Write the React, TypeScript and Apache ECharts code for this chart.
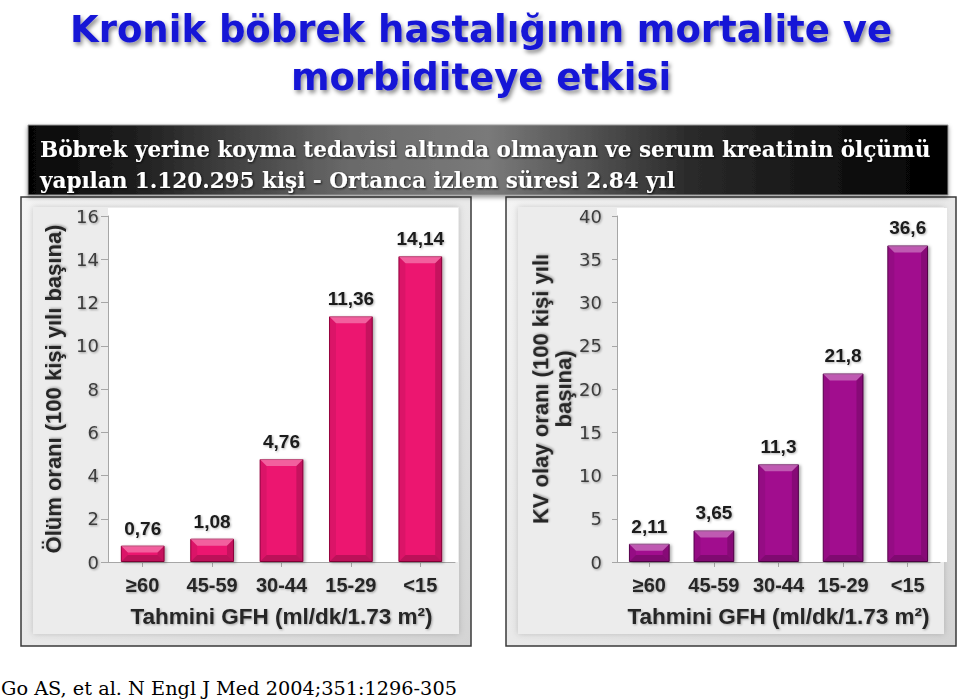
import React, { useEffect, useRef } from "react";
import * as echarts from "echarts";

const titleLines = ["Kronik böbrek hastalığının mortalite ve", "morbiditeye etkisi"];
const bannerLines = [
  "Böbrek yerine koyma tedavisi altında olmayan ve serum kreatinin ölçümü",
  "yapılan 1.120.295 kişi - Ortanca izlem süresi 2.84 yıl",
];
const citation = "Go AS, et al. N Engl J Med 2004;351:1296-305";

const categories = ["≥60", "45-59", "30-44", "15-29", "<15"];
const mortality = [0.76, 1.08, 4.76, 11.36, 14.14];
const cvEvents = [2.11, 3.65, 11.3, 21.8, 36.6];

const xAxisName = "Tahmini GFH (ml/dk/1.73 m²)";
const leftYName = "Ölüm oranı (100 kişi yılı başına)";
const rightYName = "KV olay oranı (100 kişi yılı\nbaşına)";

const leftMax = 16;
const leftInterval = 2;
const rightMax = 40;
const rightInterval = 5;

const BAR_RATIO = 0.63;

const fmt = (v: number) => String(v).replace(".", ",");

function panel(x: number, y: number, w: number, h: number, plot: number[]) {
  return [
    {
      type: "rect",
      z: -20,
      shape: { x, y, width: w, height: h },
      style: {
        fill: new echarts.graphic.LinearGradient(0, 0, 1, 1, [
          { offset: 0, color: "#f4f4f4" },
          { offset: 0.5, color: "#e9e9e9" },
          { offset: 1, color: "#d4d4d4" },
        ]),
        stroke: "#3a3a3a",
        lineWidth: 1.5,
      },
    },
    {
      type: "rect",
      z: -19,
      shape: { x: x + 12, y: y + 10, width: w - 24, height: h - 22 },
      style: {
        fill: "#ececec",
        shadowColor: "rgba(0,0,0,0.18)",
        shadowBlur: 6,
      },
    },
    {
      type: "rect",
      z: -18,
      shape: { x: plot[0], y: plot[1], width: plot[2], height: plot[3] },
      style: { fill: "#ffffff" },
    },
  ];
}

const tickLabelStyle = {
  color: "#3c3c3c",
  fontFamily: "DejaVu Sans",
  fontSize: 18,
  textShadowColor: "rgba(0,0,0,0.35)",
  textShadowBlur: 2,
  textShadowOffsetX: 1,
  textShadowOffsetY: 1,
};

const catLabelStyle = {
  color: "#262626",
  fontFamily: "Liberation Sans",
  fontWeight: "bold" as const,
  fontSize: 20,
  margin: 13,
  interval: 0,
  textShadowColor: "rgba(0,0,0,0.3)",
  textShadowBlur: 2,
  textShadowOffsetX: 1,
  textShadowOffsetY: 1,
};

const nameStyle = {
  color: "#262626",
  fontFamily: "Liberation Sans",
  fontWeight: "bold" as const,
  fontSize: 22,
  textShadowColor: "rgba(0,0,0,0.3)",
  textShadowBlur: 2,
  textShadowOffsetX: 1,
  textShadowOffsetY: 1,
};

const axisLine = { show: true, lineStyle: { color: "#a6a6a6", width: 1 } };

const barLabel = {
  show: true,
  position: "top",
  distance: 8,
  formatter: (p: any) => fmt(p.value),
  color: "#1a1a1a",
  fontFamily: "Liberation Sans",
  fontWeight: "bold",
  fontSize: 19,
  textShadowColor: "rgba(0,0,0,0.3)",
  textShadowBlur: 2,
  textShadowOffsetX: 1,
  textShadowOffsetY: 1,
};

function bevelRender(params: any, api: any) {
  const idx = api.value(0);
  const val = api.value(1);
  const top = api.coord([idx, val]);
  const base = api.coord([idx, 0]);
  const w = api.size([1, 0])[0] * BAR_RATIO;
  const x0 = top[0] - w / 2;
  const x1 = top[0] + w / 2;
  const y0 = top[1];
  const y1 = base[1];
  const b = Math.min(7, (y1 - y0) / 2.2);
  return {
    type: "group",
    silent: true,
    children: [
      {
        type: "polygon",
        shape: { points: [[x0, y0], [x1, y0], [x1 - b, y0 + b], [x0 + b, y0 + b]] },
        style: { fill: "rgba(255,255,255,0.32)" },
      },
      {
        type: "polygon",
        shape: { points: [[x0, y0], [x0 + b, y0 + b], [x0 + b, y1 - b], [x0, y1]] },
        style: { fill: "rgba(0,0,0,0.07)" },
      },
      {
        type: "polygon",
        shape: { points: [[x1, y0], [x1 - b, y0 + b], [x1 - b, y1 - b], [x1, y1]] },
        style: { fill: "rgba(0,0,0,0.16)" },
      },
      {
        type: "polygon",
        shape: { points: [[x0, y1], [x0 + b, y1 - b], [x1 - b, y1 - b], [x1, y1]] },
        style: { fill: "rgba(0,0,0,0.2)" },
      },
    ],
  };
}

export default function App() {
  const ref = useRef<HTMLDivElement>(null);

  useEffect(() => {
    if (!ref.current) return;
    const chart = echarts.init(ref.current, undefined, { renderer: "svg" });
    const bannerText = (t: string, y: number) => ({
      type: "text",
      x: 40,
      y,
      style: {
        text: t,
        fill: "#ffffff",
        fontFamily: "DejaVu Serif",
        fontWeight: "bold",
        fontSize: 21.5,
        verticalAlign: "middle",
        textShadowColor: "rgba(0,0,0,0.8)",
        textShadowBlur: 2,
        textShadowOffsetX: 1,
        textShadowOffsetY: 1,
      },
    });
    const barSeries = (i: number, data: number[], color: string, border: string) => [
      {
        type: "bar",
        xAxisIndex: i,
        yAxisIndex: i,
        data,
        barWidth: BAR_RATIO * 100 + "%",
        z: 2,
        itemStyle: {
          color,
          borderColor: border,
          borderWidth: 1,
          shadowColor: "rgba(0,0,0,0.3)",
          shadowBlur: 3,
          shadowOffsetX: 2,
          shadowOffsetY: 1,
        },
        label: barLabel,
      },
      {
        type: "custom",
        xAxisIndex: i,
        yAxisIndex: i,
        z: 3,
        silent: true,
        data: data.map((v, k) => [k, v]),
        encode: { x: 0, y: 1 },
        renderItem: bevelRender,
      },
    ];
    const option: any = {
      animation: false,
      backgroundColor: "#ffffff",
      graphic: [
        ...panel(21, 197, 450, 449, [108, 208, 350, 354]),
        ...panel(506, 197, 450, 449, [617, 208, 330, 354]),
        {
          type: "rect",
          z: -15,
          shape: { x: 28, y: 125, width: 920, height: 70 },
          style: {
            fill: new echarts.graphic.LinearGradient(0, 0, 1, 0, [
              { offset: 0, color: "#050505" },
              { offset: 0.12, color: "#202020" },
              { offset: 0.35, color: "#6a6a6a" },
              { offset: 0.5, color: "#7a7a7a" },
              { offset: 0.72, color: "#2a2a2a" },
              { offset: 1, color: "#000000" },
            ]),
            stroke: "#9a9a9a",
            lineWidth: 1,
            shadowColor: "rgba(0,0,0,0.4)",
            shadowBlur: 4,
            shadowOffsetY: 2,
          },
        },
        bannerText(bannerLines[0], 149),
        bannerText(bannerLines[1], 180),
        ...titleLines.map((t, i) => ({
          type: "text",
          x: 481,
          y: 29 + i * 48,
          style: {
            text: t,
            fill: "#1515d6",
            fontFamily: "DejaVu Sans",
            fontWeight: "bold",
            fontSize: 37,
            align: "center",
            verticalAlign: "middle",
            textShadowColor: "rgba(0,0,0,0.45)",
            textShadowBlur: 4,
            textShadowOffsetX: 2,
            textShadowOffsetY: 3,
          },
        })),
        {
          type: "text",
          x: 1,
          y: 688,
          style: {
            text: citation,
            fill: "#000000",
            fontFamily: "DejaVu Serif",
            fontSize: 19.3,
            verticalAlign: "middle",
          },
        },
      ],
      grid: [
        { left: 108, top: 216, width: 347, height: 346 },
        { left: 617, top: 216, width: 323, height: 346 },
      ],
      xAxis: [0, 1].map((i) => ({
        type: "category",
        gridIndex: i,
        data: categories,
        axisLine,
        axisTick: { show: true, alignWithLabel: true, length: 5, lineStyle: { color: "#a6a6a6" } },
        axisLabel: catLabelStyle,
        name: xAxisName,
        nameLocation: "middle",
        nameGap: 43,
        nameTextStyle: { ...nameStyle, fontSize: 22.5 },
      })),
      yAxis: [
        {
          type: "value",
          gridIndex: 0,
          min: 0,
          max: leftMax,
          interval: leftInterval,
          splitLine: { show: false },
          axisLine,
          axisTick: { show: true, length: 7, lineStyle: { color: "#a6a6a6" } },
          axisLabel: { ...tickLabelStyle, margin: 9 },
          name: leftYName,
          nameLocation: "middle",
          nameGap: 44,
          nameTextStyle: nameStyle,
        },
        {
          type: "value",
          gridIndex: 1,
          min: 0,
          max: rightMax,
          interval: rightInterval,
          splitLine: { show: false },
          axisLine,
          axisTick: { show: true, length: 5, lineStyle: { color: "#a6a6a6" } },
          axisLabel: { ...tickLabelStyle, margin: 15 },
          name: rightYName,
          nameLocation: "middle",
          nameGap: 40,
          nameTextStyle: { ...nameStyle, lineHeight: 23, align: "center" },
        },
      ],
      series: [
        ...barSeries(0, mortality, "#ec1470", "#a00042"),
        ...barSeries(1, cvEvents, "#a10e8e", "#5e0052"),
      ],
    };
    chart.setOption(option);
    return () => chart.dispose();
  }, []);

  return (
    <div
      ref={ref}
      style={{ position: "fixed", left: 0, top: 0, width: 959, height: 700 }}
    />
  );
}
